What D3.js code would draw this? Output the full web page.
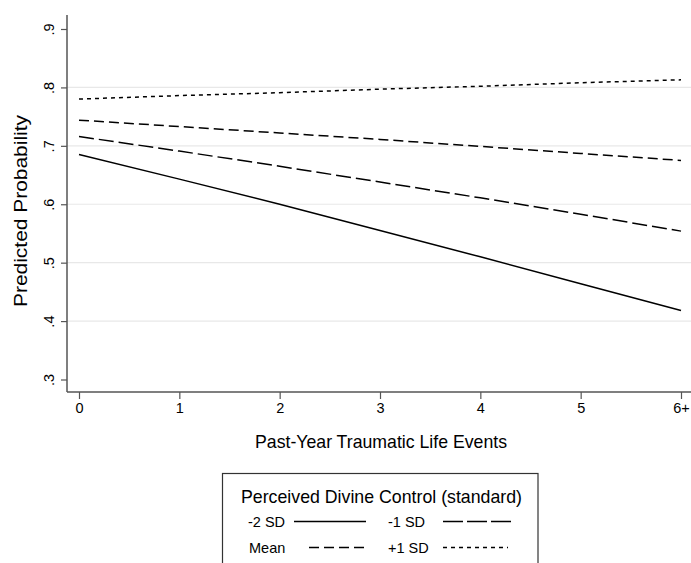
<!DOCTYPE html>
<html><head><meta charset="utf-8">
<script src="https://cdn.jsdelivr.net/npm/d3@7"></script>
<style>body{margin:0;background:#fff;} svg{display:block;font-family:"Liberation Sans",Arial,sans-serif;}</style>
</head><body>
<svg id="c" width="691" height="563"></svg>
<script>
const xCategories = ["0","1","2","3","4","5","6+"];
const yTicks = [0.3,0.4,0.5,0.6,0.7,0.8,0.9];
const yTickLabels = [".3",".4",".5",".6",".7",".8",".9"];
const gridTicks = [0.4,0.5,0.6,0.7,0.8];
const seriesNames = ["-2 SD","-1 SD","Mean","+1 SD"];
const minus2SD = [0.685,0.643,0.600,0.555,0.510,0.464,0.418];
const minus1SD = [0.716,0.691,0.665,0.638,0.611,0.583,0.554];
const meanSD   = [0.744,0.733,0.722,0.711,0.699,0.687,0.675];
const plus1SD  = [0.780,0.786,0.791,0.797,0.802,0.808,0.813];
const seriesValues = [minus2SD, minus1SD, meanSD, plus1SD];
const dashes = [null, "15,5", "10,5", "4,4"];
const legendDashes = [null, "20,4", "10,5", "4,4"];

const svg = d3.select("#c");
const x = d3.scalePoint().domain(xCategories).range([79, 681]);
const y = d3.scaleLinear().domain([0.3, 0.9]).range([379.5, 29]);
const axisX = 67, axisY = 392;

// grid
svg.append("g").selectAll("line").data(gridTicks).join("line")
  .attr("x1", axisX).attr("x2", 691)
  .attr("y1", d => y(d)).attr("y2", d => y(d))
  .attr("stroke", "#e8e8e8").attr("stroke-width", 1.2);

// y axis
const ya = svg.append("g").attr("transform", `translate(${axisX},0)`)
  .call(d3.axisLeft(y).tickValues(yTicks).tickFormat((d,i)=>yTickLabels[i]).tickSize(6).tickSizeOuter(0));
ya.select(".domain").remove();
ya.append("line").attr("x1",0).attr("x2",0).attr("y1",15).attr("y2",axisY).attr("stroke","#555").attr("stroke-width",1.5);
ya.selectAll(".tick line").attr("stroke","#555").attr("stroke-width",1.2);
ya.selectAll(".tick text").attr("fill","#000").attr("font-size",14.5)
  .attr("text-anchor","middle").attr("transform","rotate(-90)")
  .attr("x",0).attr("y",-13).attr("dy","0");

// x axis
const xa = svg.append("g").attr("transform", `translate(0,${axisY})`)
  .call(d3.axisBottom(x).tickSize(7).tickSizeOuter(0));
xa.select(".domain").remove();
xa.append("line").attr("x1",axisX).attr("x2",691).attr("y1",0).attr("y2",0).attr("stroke","#555").attr("stroke-width",1.5);
xa.selectAll(".tick line").attr("stroke","#555").attr("stroke-width",1.2);
xa.selectAll(".tick text").attr("fill","#000").attr("font-size",14.5).attr("y",11);

// lines
const line = d3.line().x((d,i)=>x(xCategories[i])).y(d=>y(d));
svg.append("g").selectAll("path").data(seriesValues).join("path")
  .attr("d", d => line(d)).attr("fill","none").attr("stroke","#000")
  .attr("stroke-width",1.5)
  .attr("stroke-dasharray",(d,i)=>dashes[i]);

// axis titles
svg.append("text").attr("x",381).attr("y",448).attr("text-anchor","middle")
  .attr("font-size",18.5).attr("textLength",252).attr("lengthAdjust","spacingAndGlyphs")
  .text("Past-Year Traumatic Life Events");
svg.append("text").attr("transform","translate(27,211) rotate(-90)").attr("text-anchor","middle")
  .attr("font-size",18.5).attr("textLength",192).attr("lengthAdjust","spacingAndGlyphs")
  .text("Predicted Probability");

// legend
const lg = svg.append("g");
lg.append("rect").attr("x",222.5).attr("y",473.5).attr("width",315.5).attr("height",100)
  .attr("fill","#fff").attr("stroke","#333").attr("stroke-width",1.2);
lg.append("text").attr("x",381.5).attr("y",503).attr("text-anchor","middle").attr("font-size",19)
  .attr("textLength",281).attr("lengthAdjust","spacingAndGlyphs")
  .text("Perceived Divine Control (standard)");
const pos = [[248,527,294,366],[388,527,443,511],[249,553,309,364],[388,553,443,508]];
seriesNames.forEach((n,i)=>{
  const p = pos[i];
  lg.append("text").attr("x",p[0]).attr("y",p[1]).attr("font-size",14.5).text(n);
  lg.append("line").attr("x1",p[2]).attr("x2",p[3]).attr("y1",p[1]-5.5).attr("y2",p[1]-5.5)
    .attr("stroke","#000").attr("stroke-width",1.5).attr("stroke-dasharray",legendDashes[i]);
});
</script>
</body></html>
